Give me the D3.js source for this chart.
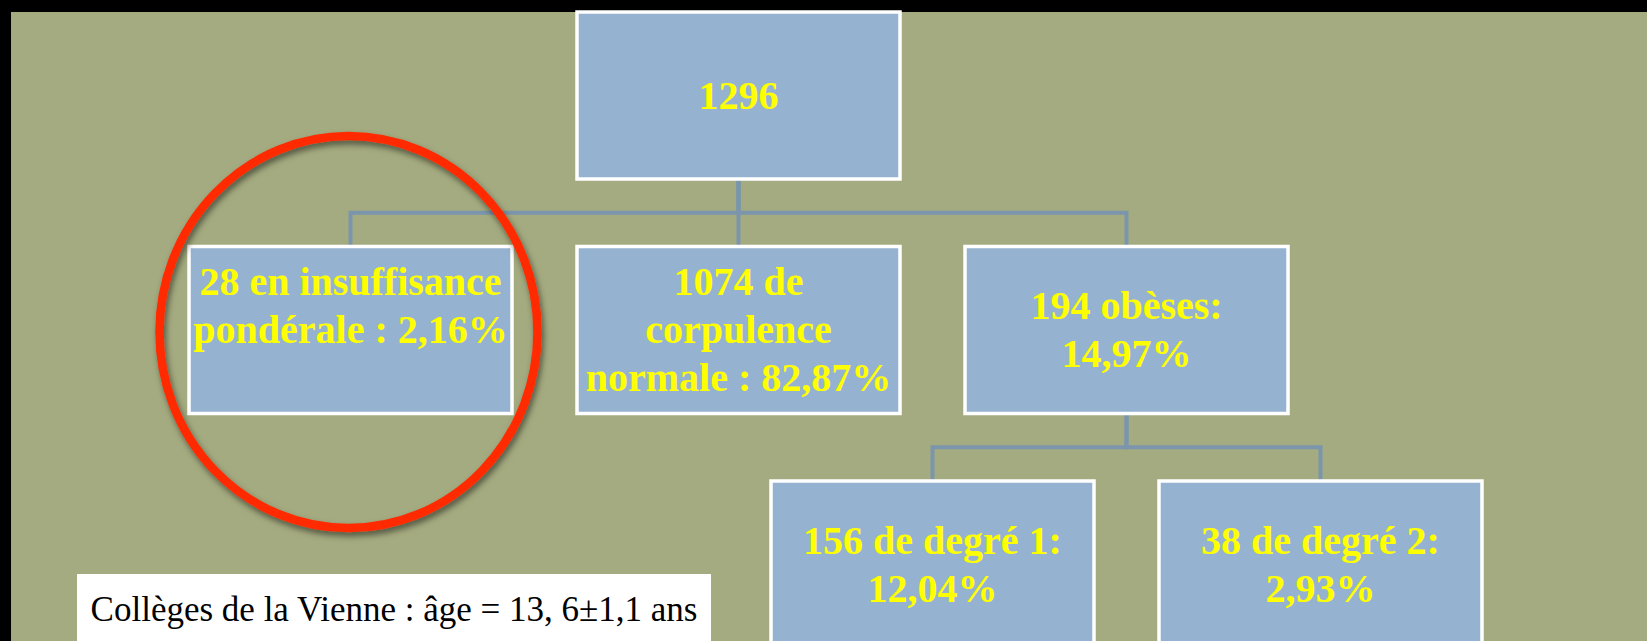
<html>
<head>
    <script src="https://d3js.org/d3.v7.min.js"></script>
    <style>
        body { margin: 0; background: #000; }
    </style>
</head>
<body>
    <svg id="svg" width="1647" height="641"></svg>

    <script>
        // **** Data ****
        const ids = ['total', 'insuff', 'normale', 'obeses', 'deg1', 'deg2']
        const parents = ['', 'total', 'total', 'total', 'obeses', 'obeses']
        const counts = [1296, 28, 1074, 194, 156, 38]
        const labels = [
            ['1296'],
            ['28 en insuffisance', 'pondérale : 2,16%', ''],
            ['1074 de', 'corpulence', 'normale : 82,87%'],
            ['194 obèses:', '14,97%'],
            ['156 de degré 1:', '12,04%'],
            ['38 de degré 2:', '2,93%']
        ]
        const highlighted = ['insuff']
        const caption = 'Collèges de la Vienne : âge = 13, 6±1,1 ans'

        // **** Layout ****
        const W = 1647, H = 641
        const boxW = 323, boxH = 167
        const rootX = 738.5, rootTop = 12
        const stepX = 388, stepY = 234.5
        const lineH = 48

        const rows = ids.map((id, i) => ({ id, parent: parents[i], count: counts[i], lines: labels[i] }))
        const root = d3.stratify().id(d => d.id).parentId(d => d.parent || null)(rows)
        d3.tree().nodeSize([stepX, stepY]).separation(() => 1)(root)

        const svg = d3.select('#svg')

        // background
        svg.append('rect').attr('width', W).attr('height', H).attr('fill', '#000')
        svg.append('rect').attr('x', 11).attr('y', 12).attr('width', W - 11).attr('height', H - 12)
            .attr('fill', '#a5ab80')

        const defs = svg.append('defs')
        defs.append('filter').attr('id', 'shadow').attr('x', '-20%').attr('y', '-20%')
            .attr('width', '140%').attr('height', '140%')
            .append('feDropShadow')
            .attr('dx', 2).attr('dy', 4).attr('stdDeviation', 3)
            .attr('flood-color', '#000').attr('flood-opacity', 0.5)

        const g = svg.append('g').attr('transform', `translate(${rootX},${rootTop})`)

        // connectors (elbow)
        g.selectAll('path.link')
            .data(root.links())
            .enter()
            .append('path')
            .attr('class', 'link')
            .attr('fill', 'none')
            .attr('stroke', '#7b95ac')
            .attr('stroke-width', 4)
            .attr('d', d => {
                const y0 = d.source.y + boxH
                const y1 = d.target.y
                const ym = (y0 + y1) / 2
                return `M${d.source.x},${y0}V${ym}H${d.target.x}V${y1}`
            })

        // boxes
        const node = g.selectAll('g.node')
            .data(root.descendants())
            .enter()
            .append('g')
            .attr('class', 'node')
            .attr('transform', d => `translate(${d.x},${d.y})`)

        node.append('rect')
            .attr('x', -boxW / 2)
            .attr('y', 0)
            .attr('width', boxW)
            .attr('height', boxH)
            .attr('fill', '#95b3d1')
            .attr('stroke', '#fff')
            .attr('stroke-width', 3.5)

        node.each(function (d) {
            const lines = d.data.lines
            const top = boxH / 2 - (lines.length - 1) * lineH / 2
            d3.select(this).selectAll('text')
                .data(lines)
                .enter()
                .append('text')
                .attr('x', 0)
                .attr('y', (l, i) => top + i * lineH + 13)
                .attr('text-anchor', 'middle')
                .attr('font-family', '"Liberation Serif", "Times New Roman", serif')
                .attr('font-weight', 'bold')
                .attr('font-size', 40)
                .attr('fill', '#ffff00')
                .text(l => l)
        })

        // red highlight ellipse
        g.selectAll('ellipse.mark')
            .data(root.descendants().filter(d => highlighted.includes(d.id)))
            .enter()
            .append('ellipse')
            .attr('class', 'mark')
            .attr('cx', d => d.x - 2)
            .attr('cy', d => d.y + boxH / 2 + 2)
            .attr('rx', 189)
            .attr('ry', 196)
            .attr('fill', 'none')
            .attr('stroke', '#ff2a00')
            .attr('stroke-width', 8.5)
            .attr('filter', 'url(#shadow)')

        // caption
        svg.append('rect')
            .attr('x', 77).attr('y', 574).attr('width', 634).attr('height', 70)
            .attr('fill', '#fff')
        svg.append('text')
            .attr('x', 394).attr('y', 621)
            .attr('text-anchor', 'middle')
            .attr('font-family', '"Liberation Serif", "Times New Roman", serif')
            .attr('font-size', 35)
            .attr('fill', '#000')
            .text(caption)
    </script>
</body>
</html>
